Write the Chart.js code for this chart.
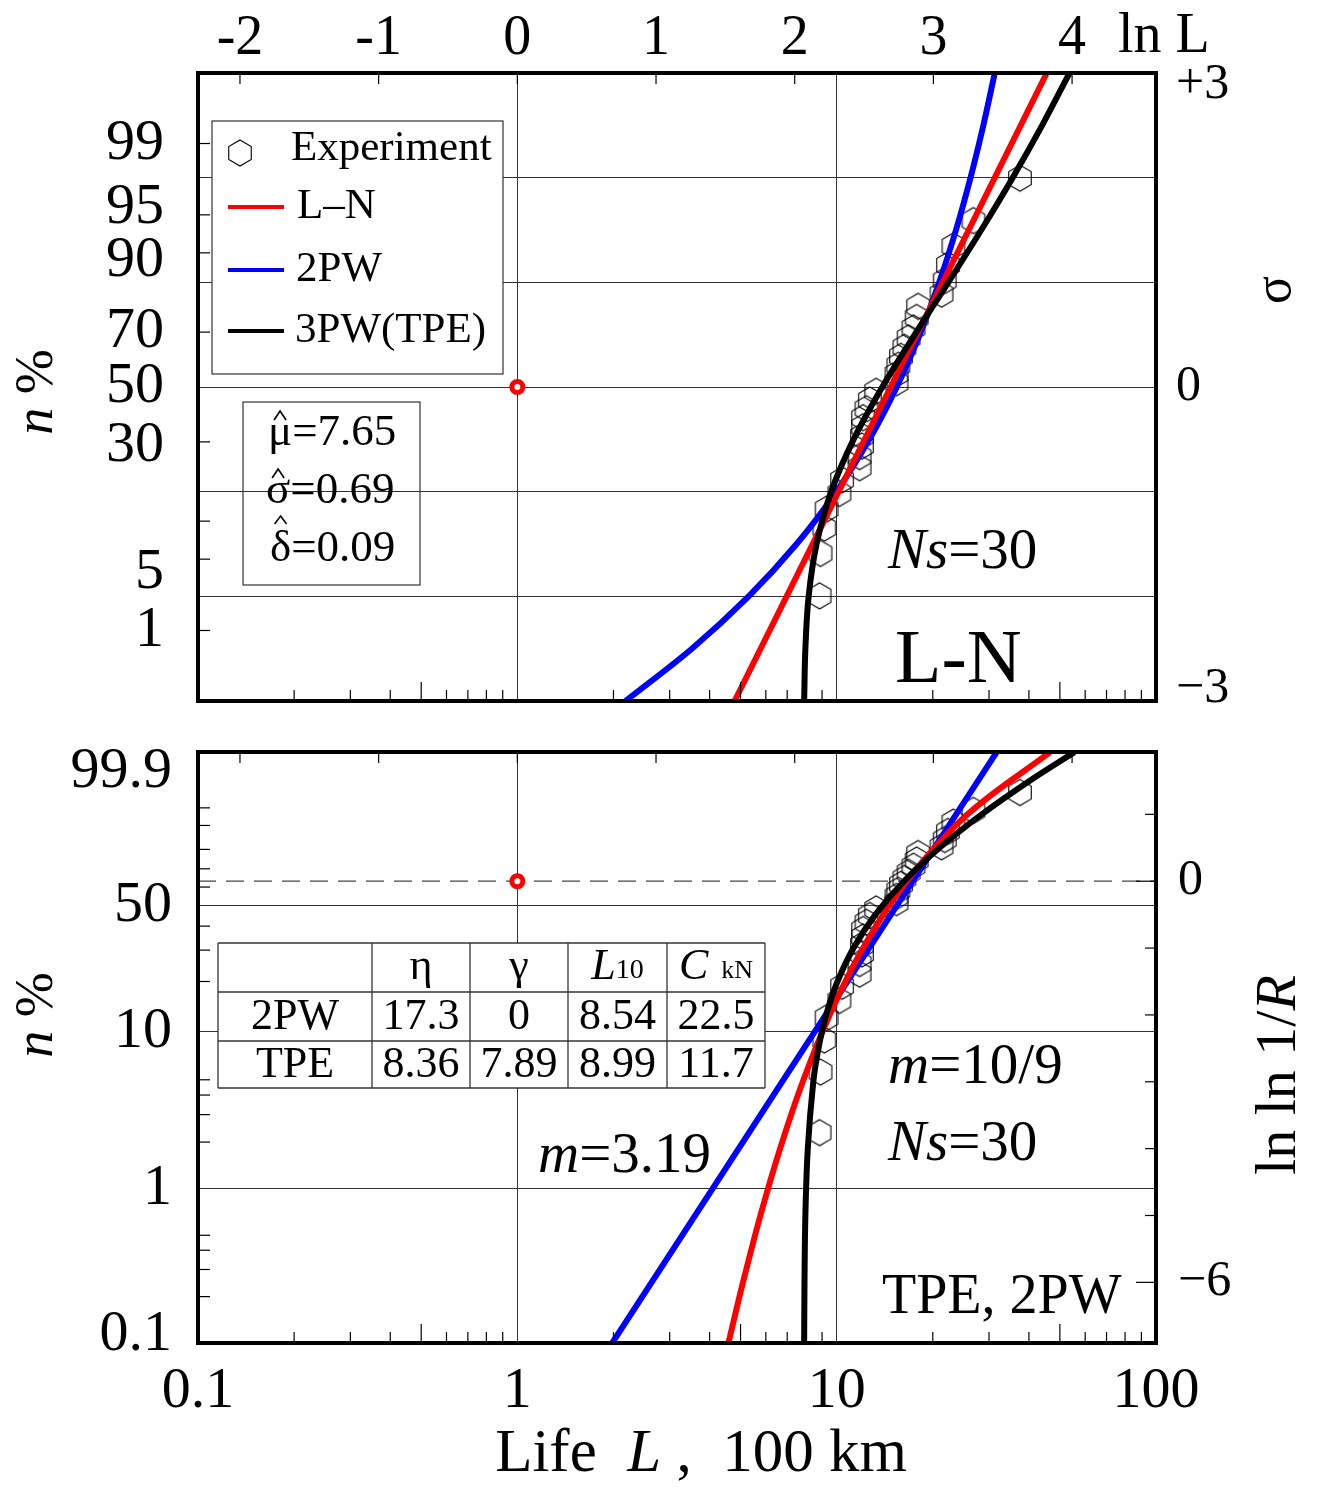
<!DOCTYPE html>
<html>
<head>
<meta charset="utf-8">
<script src="https://cdn.jsdelivr.net/npm/chart.js@4.4.0/dist/chart.umd.min.js"></script>
<style>
  body { margin: 0; background: #fff; }
  #c1 { position: absolute; left: 0; top: 0; }
  #c2 { position: absolute; left: 0; top: 715px; }
</style>
</head>
<body>
<canvas id="c1" width="1320" height="715"></canvas>
<canvas id="c2" width="1320" height="773"></canvas>
<script>
const FONT = '"Liberation Serif", "Times New Roman", serif';
Chart.defaults.font.family = FONT;
Chart.defaults.color = '#000';

// ---- axes ----
const lifeTicks = [0.1, 1, 10, 100];
const minorLife = [0.2, 0.3, 0.4, 0.5, 0.6, 0.7, 0.8, 0.9, 2, 3, 4, 5, 6, 7, 8, 9, 20, 30, 40, 50, 60, 70, 80, 90];
const lnLTicks = [-2, -1, 0, 1, 2, 3, 4];
const sigmaTicks = [-3, -2, -1, 0, 1, 2, 3];
const topPctLabels = [99, 95, 90, 70, 50, 30, 5, 1];
const topPctMarks = [99, 95, 90, 70, 30, 10, 5, 1];
const botPctLabels = [99.9, 50, 10, 1, 0.1];
const botPctGrid = [50, 10, 1];
const botPctMarks = [95, 90, 80, 70, 60, 40, 30, 20, 5, 4, 3, 2, 0.5, 0.4, 0.3, 0.2];
const lnlnMarks = [1, 0, -1, -2, -3, -4, -5, -6];

// ---- experiment (life, 100 km / median rank %) ----
const lives = [8.84, 8.9, 9.15, 9.3, 10.2, 10.4, 11.8, 11.8, 12.0, 12.0, 12.1, 12.1, 12.4, 12.7, 13.3,
               15.4, 15.4, 15.6, 15.9, 16.3, 16.8, 17.4, 17.8, 18.0, 21.3, 21.8, 22.3, 23.2, 26.8, 37.5];
const ranks = [2.30, 5.59, 8.88, 12.17, 15.46, 18.75, 22.04, 25.33, 28.62, 31.91, 35.20, 38.49, 41.78, 45.07, 48.36,
               51.64, 54.93, 58.22, 61.51, 64.80, 68.09, 71.38, 74.67, 77.96, 81.25, 84.54, 87.83, 91.12, 94.41, 97.70];

// ---- fitted curves, top panel (life / sigma) ----
const sigmaSteps = [-3, -2.5, -2, -1.5, -1, -0.5, 0, 0.5, 1, 1.5, 2, 2.5, 3];
const lnTopL = [4.79, 45.5];
const lnTopS = [-3, 3];
const wbTopL = [2.18, 3.52, 5.30, 7.49, 9.98, 12.66, 15.42, 18.20, 20.95, 23.64, 26.25, 28.80, 31.27];
const tpeTopL = [7.91, 7.98, 8.17, 8.65, 9.61, 11.30, 13.90, 17.56, 22.37, 28.37, 35.58, 44.0, 53.6];

// ---- fitted curves, bottom panel (life / ln ln 1/R) ----
const lnBotY = [-6.91, -6, -5, -4, -3, -2, -1, 0, 1, 1.93];
const lnBotL = [4.58, 5.09, 5.77, 6.65, 7.83, 9.51, 12.10, 16.58, 25.7, 46.6];
const wbBotY = [-6.91, 1.93];
const wbBotL = [1.98, 31.7];
const tpeBotY = [-6.91, -6, -5, -4, -3, -2.5, -2, -1.5, -1, -0.5, 0, 0.5, 1, 1.5, 1.93];
const tpeBotL = [7.91, 7.93, 7.98, 8.12, 8.45, 8.77, 9.27, 10.06, 11.29, 13.22, 16.25, 21.00, 28.45, 40.14, 55.5];

const markerL = 1;
const markerTopPct = 50;
const markerBotPct = 63.2;

// vertical nudges (px) of some tick labels, as typeset in the original
const topLabelShift = { 95: -7, 90: 8, 5: 14, 30: 4 };
const sigmaLabelShift = { 3: 12, '-3': -12 };
const botLabelShift = { 99.9: 20, 0.1: -8 };

// probability paper transforms
function probit(p) {
  const a = [-3.969683028665376e+01, 2.209460984245205e+02, -2.759285104469687e+02, 1.383577518672690e+02, -3.066479806614716e+01, 2.506628277459239e+00];
  const b = [-5.447609879822406e+01, 1.615858368580409e+02, -1.556989798598866e+02, 6.680131188771972e+01, -1.328068155288572e+01];
  const c = [-7.784894002430293e-03, -3.223964580411365e-01, -2.400758277161838e+00, -2.549671664228920e+00, 4.374664141464968e+00, 2.938163982698783e+00];
  const d = [7.784695709041462e-03, 3.224671290700398e-01, 2.445134137142996e+00, 3.754408661907416e+00];
  const pl = 0.02425;
  if (p < pl) {
    const q = Math.sqrt(-2 * Math.log(p));
    return (((((c[0]*q+c[1])*q+c[2])*q+c[3])*q+c[4])*q+c[5]) / ((((d[0]*q+d[1])*q+d[2])*q+d[3])*q+1);
  }
  if (p > 1 - pl) {
    const q = Math.sqrt(-2 * Math.log(1 - p));
    return -(((((c[0]*q+c[1])*q+c[2])*q+c[3])*q+c[4])*q+c[5]) / ((((d[0]*q+d[1])*q+d[2])*q+d[3])*q+1);
  }
  const q = p - 0.5, r = q * q;
  return (((((a[0]*r+a[1])*r+a[2])*r+a[3])*r+a[4])*r+a[5])*q / (((((b[0]*r+b[1])*r+b[2])*r+b[3])*r+b[4])*r+1);
}
const zOf = pct => probit(pct / 100);
const wOf = pct => Math.log(-Math.log(1 - pct / 100));

// a label nudged up/down by splitting it into two lines of a chosen height
function shifted(text, dy) {
  if (!dy) return text;
  return dy > 0 ? ['', text] : [text, ''];
}
function shiftFont(size, dy) {
  return dy ? { size: size, lineHeight: (2 * Math.abs(dy)) + 'px' } : { size: size };
}

function hexCanvas(r, lw) {
  const s = Math.ceil(2 * r + lw + 2);
  const c = document.createElement('canvas');
  c.width = s; c.height = s;
  const g = c.getContext('2d');
  g.strokeStyle = '#000'; g.lineWidth = lw;
  g.beginPath();
  for (let k = 0; k < 6; k++) {
    const an = -Math.PI / 2 + k * Math.PI / 3;
    const px = s / 2 + r * Math.cos(an), py = s / 2 + r * Math.sin(an);
    k ? g.lineTo(px, py) : g.moveTo(px, py);
  }
  g.closePath(); g.stroke();
  return c;
}
const hex = hexCanvas(13, 1.1);

// text helpers
function runs(ctx, parts, x, y, align) {
  let w = 0;
  parts.forEach(p => { ctx.font = (p[2] ? 'italic ' : '') + p[1] + 'px ' + FONT; w += ctx.measureText(p[0]).width; });
  let cx = align === 'center' ? x - w / 2 : align === 'right' ? x - w : x;
  ctx.textAlign = 'left'; ctx.textBaseline = 'middle'; ctx.fillStyle = '#000';
  parts.forEach(p => {
    ctx.font = (p[2] ? 'italic ' : '') + p[1] + 'px ' + FONT;
    ctx.fillText(p[0], cx, y + (p[3] || 0));
    cx += ctx.measureText(p[0]).width;
  });
}
function rotRuns(ctx, parts, x, y) {
  ctx.save(); ctx.translate(x, y); ctx.rotate(-Math.PI / 2);
  runs(ctx, parts, 0, 0, 'center');
  ctx.restore();
}
// estimate symbol with a hat drawn above it
function hatted(ctx, ch, rest, x, y, size, top, foot) {
  ctx.font = size + 'px ' + FONT;
  const w = ctx.measureText(ch).width;
  runs(ctx, [[ch, size], [rest, size]], x, y);
  const m = x + w / 2;
  ctx.save(); ctx.strokeStyle = '#000'; ctx.lineWidth = 1.6;
  ctx.beginPath(); ctx.moveTo(m - 6, y + foot); ctx.lineTo(m, y + top); ctx.lineTo(m + 6, y + foot); ctx.stroke();
  ctx.restore();
}
function seg(ctx, x1, y1, x2, y2) { ctx.beginPath(); ctx.moveTo(x1, y1); ctx.lineTo(x2, y2); ctx.stroke(); }

function edgeTicks(chart, leftMarks, tf) {
  const { ctx, chartArea: a, scales } = chart;
  ctx.save();
  ctx.strokeStyle = '#000'; ctx.lineWidth = 1.2;
  minorLife.forEach(v => {
    const px = scales.x.getPixelForValue(v);
    const len = (v === 0.5 || v === 5 || v === 50) ? 19 : 11;
    seg(ctx, px, a.bottom, px, a.bottom - len);
  });
  lnLTicks.forEach(k => {
    const px = scales.x.getPixelForValue(Math.exp(k));
    seg(ctx, px, a.top, px, a.top + 11);
  });
  leftMarks.forEach(p => {
    const py = scales.y.getPixelForValue(tf(p));
    seg(ctx, a.left, py, a.left + 12, py);
  });
  ctx.restore();
}
function frame(chart) {
  const { ctx, chartArea: a } = chart;
  ctx.save(); ctx.strokeStyle = '#000'; ctx.lineWidth = 4;
  ctx.strokeRect(a.left, a.top, a.right - a.left, a.bottom - a.top);
  ctx.restore();
}
const noPad = s => { s.paddingTop = 0; s.paddingBottom = 0; s.paddingLeft = 0; s.paddingRight = 0; };

function curve(L, Y, color, order) {
  return {
    data: L.map((v, i) => ({ x: v, y: Y[i] })),
    borderColor: color, borderWidth: 6, pointRadius: 0, tension: 0.35, fill: false, order: order
  };
}
function expSet(tf) {
  return {
    data: lives.map((v, i) => ({ x: v, y: tf(ranks[i]) })),
    showLine: false, pointStyle: hex, pointRadius: 13, order: 10
  };
}
function markerSet(pct, tf) {
  return {
    data: [{ x: markerL, y: tf(pct) }], showLine: false, pointStyle: 'circle',
    pointRadius: 5.5, borderWidth: 5, pointBorderColor: '#ff0000', pointBackgroundColor: '#fff', order: 0
  };
}

function xScale(showLabels, h) {
  return {
    type: 'logarithmic', position: 'bottom', min: 0.1, max: 100,
    afterBuildTicks: s => { s.ticks = lifeTicks.map(v => ({ value: v })); },
    afterFit: s => { s.height = h; noPad(s); },
    ticks: { display: showLabels, callback: v => String(v), font: { size: 58 }, padding: 14, maxRotation: 0, autoSkip: false },
    grid: { color: '#333', lineWidth: 1, drawTicks: false },
    border: { display: false }
  };
}
function pctScale(labels, shifts, range, gridColor) {
  return {
    type: 'linear', position: 'left', min: range[0], max: range[1],
    afterBuildTicks: s => { s.ticks = labels.map(p => ({ value: range[2](p), pct: p })); },
    afterFit: s => { s.width = 198; noPad(s); },
    ticks: {
      callback: (v, i, t) => shifted(String(t[i].pct), shifts[t[i].pct]),
      font: c => shiftFont(58, c.tick ? shifts[c.tick.pct] : 0),
      padding: 26, autoSkip: false
    },
    grid: gridColor ? { color: gridColor, lineWidth: 1, drawTicks: false } : { display: false },
    border: { display: false }
  };
}

// ================= top panel: log-normal paper =================
const deco1 = {
  id: 'deco1',
  afterDraw(chart) {
    const ctx = chart.ctx;
    edgeTicks(chart, topPctMarks, zOf);
    frame(chart);
    ctx.save();
    // legend
    ctx.fillStyle = '#fff'; ctx.fillRect(212, 121, 291, 253);
    ctx.strokeStyle = '#333'; ctx.lineWidth = 1.2; ctx.strokeRect(212, 121, 291, 253);
    ctx.drawImage(hex, 240 - hex.width / 2, 153 - hex.height / 2);
    runs(ctx, [['Experiment', 43]], 291, 149);
    [['#ff0000', 207, 'L\u2013N', 297], ['#0000ff', 270, '2PW', 296], ['#000', 331, '3PW(TPE)', 295]].forEach(e => {
      ctx.strokeStyle = e[0]; ctx.lineWidth = 4; seg(ctx, 228, e[1], 284, e[1]);
      runs(ctx, [[e[2], 43]], e[3], e[1]);
    });
    // estimates box
    ctx.strokeStyle = '#333'; ctx.lineWidth = 1.2; ctx.strokeRect(243, 402, 177, 183);
    hatted(ctx, '\u03bc', '=7.65', 268, 433, 45, -22, -13);
    hatted(ctx, '\u03c3', '=0.69', 266, 491, 45, -22, -13);
    hatted(ctx, '\u03b4', '=0.09', 270, 549, 45, -33, -25);
    // labels
    runs(ctx, [['ln L', 56]], 1118, 37);
    rotRuns(ctx, [['\u03c3', 52]], 1276, 290);
    rotRuns(ctx, [['n', 54, true], [' %', 54]], 38, 392);
    runs(ctx, [['N', 57, true], ['s', 57, true], ['=30', 57]], 888, 553);
    runs(ctx, [['L-N', 76]], 895, 662);
    ctx.restore();
  }
};

new Chart(document.getElementById('c1'), {
  type: 'line',
  data: {
    datasets: [
      markerSet(markerTopPct, zOf),
      curve(tpeTopL, sigmaSteps, '#000000', 1),
      curve(lnTopL, lnTopS, '#ff0000', 2),
      curve(wbTopL, sigmaSteps, '#0000ff', 3),
      expSet(zOf)
    ]
  },
  options: {
    responsive: false, animation: false, events: [],
    layout: { padding: 0 },
    plugins: { legend: { display: false }, tooltip: { enabled: false } },
    scales: {
      x: xScale(false, 12),
      xt: {
        type: 'logarithmic', position: 'top', min: 0.1, max: 100,
        afterBuildTicks: s => { s.ticks = lnLTicks.map(k => ({ value: Math.exp(k) })); },
        afterFit: s => { s.height = 73; noPad(s); },
        ticks: { callback: (v, i) => String(lnLTicks[i]), font: { size: 56 }, padding: -8, maxRotation: 0, autoSkip: false },
        grid: { display: false }, border: { display: false }
      },
      y: {
        type: 'linear', position: 'right', min: -3, max: 3,
        afterBuildTicks: s => { s.ticks = sigmaTicks.map(v => ({ value: v })); },
        afterFit: s => { s.width = 164; noPad(s); },
        ticks: {
          callback: v => shifted(v === 3 ? '+3' : v === 0 ? '0' : v === -3 ? '\u22123' : '', sigmaLabelShift[v]),
          font: c => shiftFont(50, c.tick ? sigmaLabelShift[c.tick.value] : 0),
          padding: 20, autoSkip: false
        },
        grid: { color: c => Math.abs(c.tick.value) === 3 ? 'rgba(0,0,0,0)' : '#333', lineWidth: 1, drawTicks: false },
        border: { display: false }
      },
      yp: pctScale(topPctLabels, topLabelShift, [-3, 3, zOf], null)
    }
  },
  plugins: [deco1]
});

// ================= bottom panel: Weibull paper =================
const deco2 = {
  id: 'deco2',
  beforeDatasetsDraw(chart) {
    const { ctx, chartArea: a, scales } = chart;
    const py = scales.y.getPixelForValue(0);
    ctx.save(); ctx.strokeStyle = '#444'; ctx.lineWidth = 1.2; ctx.setLineDash([18, 10]);
    seg(ctx, a.left, py, a.right, py);
    ctx.restore();
  },
  afterDraw(chart) {
    const { ctx, chartArea: a, scales } = chart;
    edgeTicks(chart, botPctMarks, wOf);
    ctx.save();
    ctx.strokeStyle = '#000'; ctx.lineWidth = 1.2;
    lnlnMarks.forEach(v => {
      const py = scales.y.getPixelForValue(v);
      seg(ctx, a.right, py, a.right - ((v === 0 || v === -6) ? 20 : 11), py);
    });
    ctx.restore();
    frame(chart);
    ctx.save();
    // parameter table
    const cx = [218, 372, 470, 568, 667, 765];
    const ry = [228, 277, 326, 373];
    ctx.fillStyle = '#fff'; ctx.fillRect(cx[0], ry[0], cx[5] - cx[0], ry[3] - ry[0]);
    ctx.strokeStyle = '#333'; ctx.lineWidth = 1.3;
    cx.forEach(x => seg(ctx, x, ry[0], x, ry[3]));
    ry.forEach(y => seg(ctx, cx[0], y, cx[5], y));
    const mid = i => (cx[i] + cx[i + 1]) / 2;
    runs(ctx, [['\u03b7', 44]], mid(1), 252, 'center');
    runs(ctx, [['\u03b3', 44]], mid(2), 252, 'center');
    runs(ctx, [['L', 44, true], ['10', 28, false, 4]], mid(3), 252, 'center');
    runs(ctx, [['C', 44, true], ['  kN', 26, false, 4]], mid(4), 252, 'center');
    [['2PW', '17.3', '0', '8.54', '22.5'], ['TPE', '8.36', '7.89', '8.99', '11.7']].forEach((row, r) => {
      row.forEach((s, i) => runs(ctx, [[s, 44]], mid(i), r ? 350 : 302, 'center'));
    });
    // labels
    rotRuns(ctx, [['n', 54, true], [' %', 54]], 38, 300);
    rotRuns(ctx, [['ln ln 1/', 58], ['R', 58, true]], 1280, 360);
    runs(ctx, [['m', 57, true], ['=10/9', 57]], 888, 353);
    runs(ctx, [['N', 57, true], ['s', 57, true], ['=30', 57]], 888, 430);
    runs(ctx, [['m', 57, true], ['=3.19', 57]], 538, 442);
    runs(ctx, [['TPE, 2PW', 56]], 882, 583);
    runs(ctx, [['Life  ', 61], ['L', 61, true], [' ,  100 km', 61]], 701, 740, 'center');
    ctx.restore();
  }
};

new Chart(document.getElementById('c2'), {
  type: 'line',
  data: {
    datasets: [
      markerSet(markerBotPct, wOf),
      curve(tpeBotL, tpeBotY, '#000000', 1),
      curve(lnBotL, lnBotY, '#ff0000', 2),
      curve(wbBotL, wbBotY, '#0000ff', 3),
      expSet(wOf)
    ]
  },
  options: {
    responsive: false, animation: false, events: [],
    layout: { padding: { top: 37 } },
    plugins: { legend: { display: false }, tooltip: { enabled: false } },
    scales: {
      x: xScale(true, 145),
      y: {
        type: 'linear', position: 'right', min: wOf(0.1), max: wOf(99.9),
        afterBuildTicks: s => { s.ticks = [{ value: 0 }, { value: -6 }]; },
        afterFit: s => { s.width = 164; noPad(s); },
        ticks: { callback: v => v === 0 ? '0' : '\u22126', font: { size: 50 }, padding: 14, autoSkip: false },
        grid: { display: false }, border: { display: false }
      },
      yp: pctScale(botPctLabels, botLabelShift, [wOf(0.1), wOf(99.9), wOf],
                   c => botPctGrid.includes(c.tick.pct) ? '#333' : 'rgba(0,0,0,0)')
    }
  },
  plugins: [deco2]
});
</script>
</body>
</html>
